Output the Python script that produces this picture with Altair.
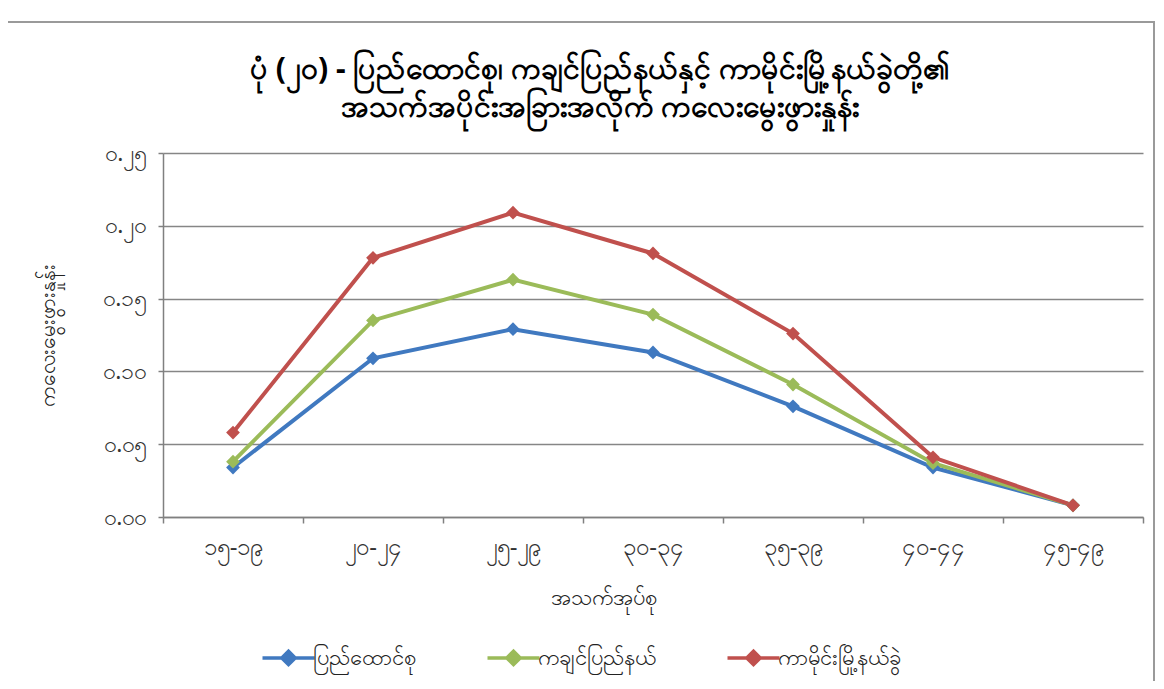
import altair as alt
import pandas as pd

age_groups = ["၁၅-၁၉", "၂၀-၂၄", "၂၅-၂၉", "၃၀-၃၄", "၃၅-၃၉", "၄၀-၄၄", "၄၅-၄၉"]
series_names = ["ပြည်ထောင်စု", "ကချင်ပြည်နယ်", "ကာမိုင်းမြို့နယ်ခွဲ"]
union_vals = [0.034, 0.109, 0.129, 0.113, 0.076, 0.034, 0.008]
kachin_vals = [0.038, 0.135, 0.163, 0.139, 0.091, 0.037, 0.008]
kamaing_vals = [0.058, 0.178, 0.209, 0.181, 0.126, 0.041, 0.008]
y_ticks = [0.0, 0.05, 0.10, 0.15, 0.20, 0.25]
y_tick_labels = ["၀.၀၀", "၀.၀၅", "၀.၁၀", "၀.၁၅", "၀.၂၀", "၀.၂၅"]
colors = ["#4079C0", "#9BBB59", "#C0504D"]

title_lines = ["ပုံ (၂၀) - ပြည်ထောင်စု၊ ကချင်ပြည်နယ်နှင့် ကာမိုင်းမြို့နယ်ခွဲတို့၏",
               "အသက်အပိုင်းအခြားအလိုက် ကလေးမွေးဖွားနှုန်း"]
y_title = "ကလေးမွေးဖွားနှုန်း"
x_title = "အသက်အုပ်စု"

rows = []
for name, vals in zip(series_names, [union_vals, kachin_vals, kamaing_vals]):
    for a, v in zip(age_groups, vals):
        rows.append({"age": a, "series": name, "rate": v})
df = pd.DataFrame(rows)

label_expr = "{" + ",".join(f"'{t:.2f}':'{l}'" for t, l in zip(y_ticks, y_tick_labels)) + "}[format(datum.value,'.2f')]"

FONT = "Noto Sans"
W, H = 980, 364

legend_path = "M-1.4,0L1.4,0M0,-0.36L0.36,0L0,0.36L-0.36,0Z"


def make_legend():
    return alt.Legend(title=None, orient="none", direction="horizontal",
                      legendX=105, legendY=484,
                      symbolType=legend_path, symbolSize=1380,
                      symbolStrokeWidth=3.5, labelFontSize=22,
                      labelColor="#222222", columnPadding=64,
                      labelOffset=4, symbolOpacity=1, labelLimit=300)


x_enc = alt.X("age:N", sort=age_groups, bandPosition=0.5,
              scale=alt.Scale(type="band", paddingInner=0, paddingOuter=0),
              axis=alt.Axis(title=x_title, tickBand="extent", labelAngle=0,
                            labelFontSize=24, labelColor="#333333", labelPadding=12,
                            tickSize=6, tickColor="#808080", tickWidth=1.5,
                            domainColor="#808080", domainWidth=1.5,
                            titleFontSize=22, titleFontWeight="normal", titleColor="#222222",
                            titlePadding=28, titleX=440, grid=False))
y_enc = alt.Y("rate:Q",
              scale=alt.Scale(domain=[0, 0.25], nice=False),
              axis=alt.Axis(title=y_title, values=y_ticks, labelExpr=label_expr,
                            labelFontSize=23, labelColor="#333333", labelPadding=12,
                            tickSize=5, tickColor="#808080", tickWidth=1.5,
                            domainColor="#808080", domainWidth=1.5,
                            grid=True, gridColor="#868686", gridWidth=1.5,
                            titleFontSize=21, titleFontWeight="normal", titleColor="#222222",
                            titleX=-105))

base = alt.Chart(df)

lines = base.mark_line(strokeWidth=4).encode(
    x=x_enc, y=y_enc,
    stroke=alt.Stroke("series:N", sort=series_names,
                      scale=alt.Scale(domain=series_names, range=colors),
                      legend=make_legend()),
    detail="series:N",
)

points = base.mark_point(shape="diamond", filled=True, size=190, opacity=1).encode(
    x=x_enc, y=y_enc,
    fill=alt.Fill("series:N", sort=series_names,
                  scale=alt.Scale(domain=series_names, range=colors),
                  legend=make_legend()),
)

one = pd.DataFrame({"a": [0]})

frame = alt.Chart(one).mark_rect(
    fill=None, stroke="#9a9a9a", strokeWidth=2
).encode(x=alt.value(-160), x2=alt.value(991), y=alt.value(-131), y2=alt.value(560))

topline = alt.Chart(one).mark_rule(
    stroke="#a0a0a0", strokeWidth=2
).encode(x=alt.value(-163), x2=alt.value(995), y=alt.value(-148))

title1 = alt.Chart(one).mark_text(
    text=title_lines[0], fontSize=30, fontWeight="bold", color="#000000",
    align="center", baseline="middle", font=FONT
).encode(x=alt.value(437), y=alt.value(-83))

title2 = alt.Chart(one).mark_text(
    text=title_lines[1], fontSize=30, fontWeight="bold", color="#000000",
    align="center", baseline="middle", font=FONT
).encode(x=alt.value(437), y=alt.value(-45))

chart = alt.layer(frame, topline, title1, title2, lines, points).properties(
    width=W, height=H,
    autosize=alt.AutoSizeParams(type="none"),
    padding={"left": 155, "top": 145, "right": 13, "bottom": 164},
).configure(font=FONT).configure_view(stroke=None)

chart.save("out.html", embed_options={"renderer": "svg", "actions": False})
